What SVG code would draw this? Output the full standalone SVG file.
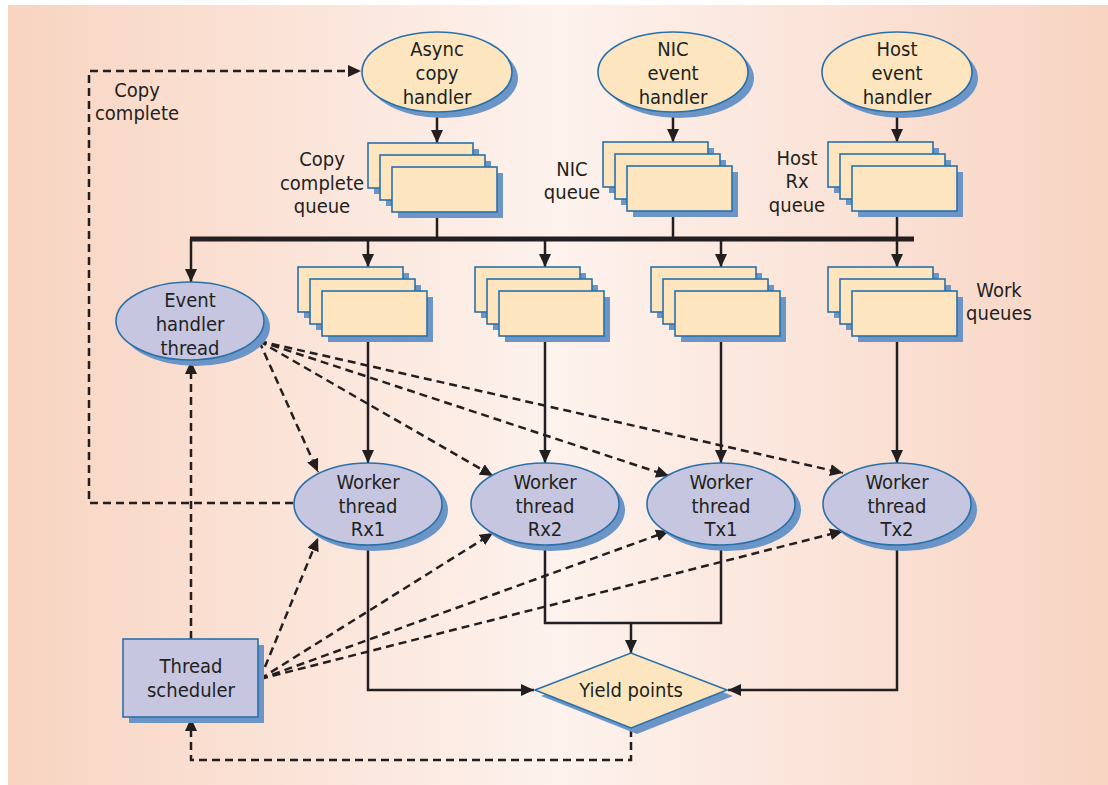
<svg xmlns="http://www.w3.org/2000/svg" width="1108" height="785" viewBox="0 0 1108 785">
<defs>
<linearGradient id="bg" x1="0" y1="0" x2="1" y2="0">
<stop offset="0" stop-color="#f8d4c1"/>
<stop offset="0.5" stop-color="#fdf2ed"/>
<stop offset="1" stop-color="#f8d4c2"/>
</linearGradient>
<marker id="ah" markerUnits="userSpaceOnUse" markerWidth="14" markerHeight="12" refX="13" refY="6" orient="auto">
<path d="M0,0 L13,6 L0,12 z" fill="#231f20"/>
</marker>
<g id="stack">
<rect x="6" y="6" width="105" height="45" class="sh"/>
<rect x="0" y="0" width="105" height="45" class="yq"/>
<rect x="18" y="18" width="105" height="45" class="sh"/>
<rect x="12" y="12" width="105" height="45" class="yq"/>
<rect x="30" y="30" width="105" height="45" class="sh"/>
<rect x="24" y="24" width="105" height="45" class="yq"/>
</g>
</defs>
<style>
.sh{fill:#6b95c6;stroke:none}
.yq{fill:#fde6bf;stroke:#2a70a8;stroke-width:1.6}
.pu{fill:#c6c6e1;stroke:#2a70a8;stroke-width:1.6}
.t{font-family:"Liberation Sans Narrow","DejaVu Sans Condensed","Liberation Sans",sans-serif;font-size:20px;fill:#231f20;text-anchor:middle}
.s{fill:none;stroke:#231f20;stroke-width:2.5}
.d{fill:none;stroke:#231f20;stroke-width:2.5;stroke-dasharray:8 5}
</style>
<rect x="8" y="5" width="1100" height="780" fill="url(#bg)"/>

<g id="connectors">
<!-- handler to queues -->
<line x1="437" y1="112" x2="437" y2="143" class="s" marker-end="url(#ah)"/>
<line x1="673" y1="112" x2="673" y2="142" class="s" marker-end="url(#ah)"/>
<line x1="897" y1="112" x2="897" y2="142" class="s" marker-end="url(#ah)"/>
<!-- queues to bus -->
<line x1="437" y1="213" x2="437" y2="239" class="s"/>
<line x1="673" y1="213" x2="673" y2="239" class="s"/>
<line x1="897" y1="213" x2="897" y2="239" class="s"/>
<line x1="190" y1="239" x2="914" y2="239" stroke="#231f20" stroke-width="5"/>
<!-- bus drops -->
<line x1="191" y1="239" x2="191" y2="282" class="s" marker-end="url(#ah)"/>
<line x1="368" y1="239" x2="368" y2="267" class="s" marker-end="url(#ah)"/>
<line x1="545" y1="239" x2="545" y2="267" class="s" marker-end="url(#ah)"/>
<line x1="721" y1="239" x2="721" y2="267" class="s" marker-end="url(#ah)"/>
<line x1="897" y1="239" x2="897" y2="267" class="s" marker-end="url(#ah)"/>
<!-- work queues to workers -->
<line x1="368" y1="340" x2="368" y2="463" class="s" marker-end="url(#ah)"/>
<line x1="545" y1="340" x2="545" y2="463" class="s" marker-end="url(#ah)"/>
<line x1="721" y1="340" x2="721" y2="463" class="s" marker-end="url(#ah)"/>
<line x1="897" y1="340" x2="897" y2="463" class="s" marker-end="url(#ah)"/>
<!-- workers to yield -->
<polyline points="368,546 368,690 534,690" class="s" marker-end="url(#ah)"/>
<polyline points="897,546 897,690 728,690" class="s" marker-end="url(#ah)"/>
<polyline points="545,546 545,623 721,623 721,546" class="s"/>
<line x1="631" y1="623" x2="631" y2="653" class="s" marker-end="url(#ah)"/>
<!-- dashed -->
<polyline points="631,729 631,760 191,760 191,718" class="d" marker-end="url(#ah)"/>
<line x1="191" y1="639" x2="191" y2="361" class="d" marker-end="url(#ah)"/>
<polyline points="293,503 89,503 89,71 361,71" class="d" marker-end="url(#ah)"/>
<line x1="259" y1="341" x2="318" y2="472" class="d" marker-end="url(#ah)"/>
<line x1="259" y1="341" x2="493" y2="476" class="d" marker-end="url(#ah)"/>
<line x1="259" y1="341" x2="669" y2="476" class="d" marker-end="url(#ah)"/>
<line x1="259" y1="341" x2="843" y2="473" class="d" marker-end="url(#ah)"/>
<line x1="260" y1="679" x2="318" y2="538" class="d" marker-end="url(#ah)"/>
<line x1="260" y1="679" x2="493" y2="533" class="d" marker-end="url(#ah)"/>
<line x1="260" y1="679" x2="669" y2="531" class="d" marker-end="url(#ah)"/>
<line x1="260" y1="679" x2="843" y2="531" class="d" marker-end="url(#ah)"/>
</g>

<g id="async-copy-handler">
<ellipse cx="443" cy="78" rx="75" ry="40" class="sh"/>
<ellipse cx="437" cy="72" rx="75" ry="40" class="yq"/>
<text class="t" x="437" y="56">Async</text>
<text class="t" x="437" y="80">copy</text>
<text class="t" x="437" y="104">handler</text>
</g>
<g id="nic-event-handler">
<ellipse cx="679" cy="78" rx="75" ry="40" class="sh"/>
<ellipse cx="673" cy="72" rx="75" ry="40" class="yq"/>
<text class="t" x="673" y="56">NIC</text>
<text class="t" x="673" y="80">event</text>
<text class="t" x="673" y="104">handler</text>
</g>
<g id="host-event-handler">
<ellipse cx="903" cy="78" rx="75" ry="40" class="sh"/>
<ellipse cx="897" cy="72" rx="75" ry="40" class="yq"/>
<text class="t" x="897" y="56">Host</text>
<text class="t" x="897" y="80">event</text>
<text class="t" x="897" y="104">handler</text>
</g>

<g id="copy-complete-queue">
<use href="#stack" x="368" y="143"/>
<text class="t" x="322" y="166">Copy</text>
<text class="t" x="322" y="190">complete</text>
<text class="t" x="322" y="213">queue</text>
</g>
<g id="nic-queue">
<use href="#stack" x="603" y="142"/>
<text class="t" x="572" y="176">NIC</text>
<text class="t" x="572" y="199">queue</text>
</g>
<g id="host-rx-queue">
<use href="#stack" x="828" y="142"/>
<text class="t" x="797" y="165">Host</text>
<text class="t" x="797" y="188">Rx</text>
<text class="t" x="797" y="212">queue</text>
</g>

<g id="work-queue-1"><use href="#stack" x="298" y="267"/></g>
<g id="work-queue-2"><use href="#stack" x="475" y="267"/></g>
<g id="work-queue-3"><use href="#stack" x="651" y="267"/></g>
<g id="work-queue-4"><use href="#stack" x="828" y="267"/>
<text class="t" x="999" y="297">Work</text>
<text class="t" x="999" y="320">queues</text>
</g>

<g id="event-handler-thread">
<ellipse cx="196" cy="327" rx="74" ry="39" class="sh"/>
<ellipse cx="190" cy="321" rx="74" ry="39" class="pu"/>
<text class="t" x="190" y="307">Event</text>
<text class="t" x="190" y="331">handler</text>
<text class="t" x="190" y="355">thread</text>
</g>

<g id="worker-rx1">
<ellipse cx="374" cy="510" rx="74" ry="41" class="sh"/>
<ellipse cx="368" cy="504" rx="74" ry="41" class="pu"/>
<text class="t" x="368" y="489">Worker</text>
<text class="t" x="368" y="513">thread</text>
<text class="t" x="368" y="536">Rx1</text>
</g>
<g id="worker-rx2">
<ellipse cx="551" cy="510" rx="74" ry="41" class="sh"/>
<ellipse cx="545" cy="504" rx="74" ry="41" class="pu"/>
<text class="t" x="545" y="489">Worker</text>
<text class="t" x="545" y="513">thread</text>
<text class="t" x="545" y="536">Rx2</text>
</g>
<g id="worker-tx1">
<ellipse cx="727" cy="510" rx="74" ry="41" class="sh"/>
<ellipse cx="721" cy="504" rx="74" ry="41" class="pu"/>
<text class="t" x="721" y="489">Worker</text>
<text class="t" x="721" y="513">thread</text>
<text class="t" x="721" y="536">Tx1</text>
</g>
<g id="worker-tx2">
<ellipse cx="903" cy="510" rx="74" ry="41" class="sh"/>
<ellipse cx="897" cy="504" rx="74" ry="41" class="pu"/>
<text class="t" x="897" y="489">Worker</text>
<text class="t" x="897" y="513">thread</text>
<text class="t" x="897" y="536">Tx2</text>
</g>

<g id="thread-scheduler">
<rect x="129" y="645" width="135" height="78" class="sh"/>
<rect x="123" y="639" width="135" height="78" class="pu"/>
<text class="t" x="191" y="673">Thread</text>
<text class="t" x="191" y="697">scheduler</text>
</g>

<g id="yield-points">
<polygon points="541,696 637,659 733,696 637,734" class="sh"/>
<polygon points="535,690 631,653 727,690 631,728" class="yq"/>
<text class="t" x="631" y="697">Yield points</text>
</g>

<g id="copy-complete-label">
<text class="t" x="137" y="97">Copy</text>
<text class="t" x="137" y="120">complete</text>
</g>
</svg>
